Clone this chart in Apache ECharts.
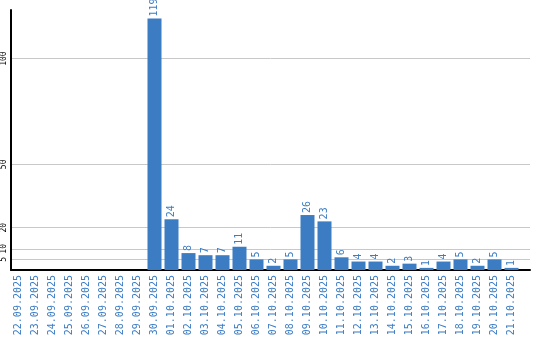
<!DOCTYPE html>
<html><head><meta charset="utf-8">
<script src="https://cdn.jsdelivr.net/npm/echarts@6/dist/echarts.min.js"></script>
<style>html,body{margin:0;padding:0;background:#fff}#c{width:540px;height:340px}</style>
</head><body><div id="c"></div>
<script>
const categories = ['22.09.2025','23.09.2025','24.09.2025','25.09.2025','26.09.2025','27.09.2025','28.09.2025','29.09.2025','30.09.2025','01.10.2025','02.10.2025','03.10.2025','04.10.2025','05.10.2025','06.10.2025','07.10.2025','08.10.2025','09.10.2025','10.10.2025','11.10.2025','12.10.2025','13.10.2025','14.10.2025','15.10.2025','16.10.2025','17.10.2025','18.10.2025','19.10.2025','20.10.2025','21.10.2025'];
const values = [0,0,0,0,0,0,0,0,119,24,8,7,7,11,5,2,5,26,23,6,4,4,2,3,1,4,5,2,5,1];
const yTicks = [5,10,20,50,100];

const BLUE = '#3b7cc3';
const FONT = 'DejaVu Sans Mono';
const chart = echarts.init(document.getElementById('c'), null, {renderer:'canvas'});
chart.setOption({
  animation:false,
  grid:[
    {left:10, right:10, top:10, bottom:70},
    {left:10, width:510, top:10, bottom:70}
  ],
  xAxis:[
    {gridIndex:0, type:'value', min:0, max:1, axisLabel:{show:false}, axisTick:{show:false}, splitLine:{show:false},
     axisLine:{show:true, lineStyle:{color:'#000', width:2}}},
    {gridIndex:1, type:'category', data:categories, axisLine:{show:false}, axisTick:{show:false},
     axisLabel:{interval:0, rotate:90, color:BLUE, fontFamily:FONT, fontSize:10, margin:5}}
  ],
  yAxis:[
    {gridIndex:0, type:'value', min:0, max:123,
     axisLine:{show:true, lineStyle:{color:'#000', width:2}},
     axisTick:{show:false, customValues:yTicks},
     axisLabel:{customValues:yTicks, rotate:90, color:'#000', fontFamily:FONT, fontSize:8, margin:3},
     splitLine:{show:true, lineStyle:{color:'#c8c8c8', width:1}}},
    {gridIndex:1, type:'value', min:0, max:123, show:false, splitLine:{show:false}}
  ],
  series:[{
    type:'bar', xAxisIndex:1, yAxisIndex:1, data:values, barWidth:14,
    itemStyle:{color:BLUE},
    label:{show:true, position:'top', rotate:90, align:'left', verticalAlign:'middle', distance:2,
      color:BLUE, fontFamily:FONT, fontSize:10,
      formatter:p=>p.value>0?String(p.value):''}
  }]
});
</script></body></html>
